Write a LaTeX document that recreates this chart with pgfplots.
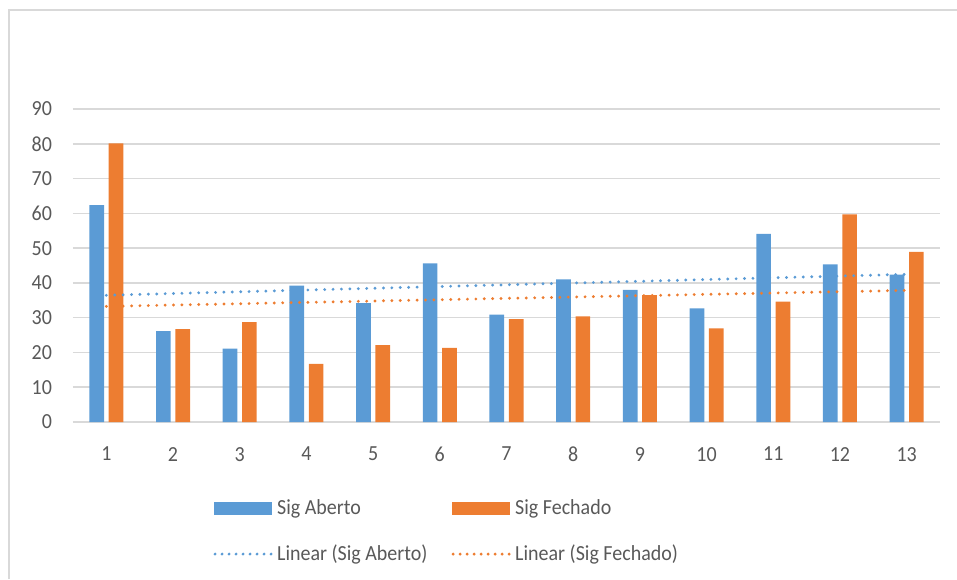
\documentclass[border=0pt]{standalone}
\usepackage{pgfplots}
\usepackage{pgfplotstable}
\pgfplotsset{compat=1.18}
\usepackage{fontspec}
\setmainfont{Carlito}[FakeStretch=0.93]
\definecolor{cblue}{RGB}{91,155,213}
\definecolor{corange}{RGB}{237,125,49}
\definecolor{cgrid}{RGB}{217,217,217}
\definecolor{ctext}{RGB}{89,89,89}
\pgfplotstableread{
x a f
1 62.4 80.1
2 26.1 26.7
3 21.1 28.7
4 39.2 16.7
5 34.2 22.1
6 45.6 21.3
7 30.9 29.6
8 41.0 30.4
9 38.0 36.5
10 32.7 26.9
11 54.1 34.6
12 45.3 59.7
13 42.4 48.9
}\data
\begin{document}
\begin{tikzpicture}
\path[use as bounding box] (0pt,0pt) rectangle (478.5pt,289.5pt);
\draw[cgrid, line width=0.9pt] (4.5pt,0pt) -- (4.5pt,284.5pt) -- (478.5pt,284.5pt);
\begin{axis}[
  at={(36.5pt,78.5pt)}, anchor=south west,
  scale only axis, width=433.5pt, height=156.5pt,
  xmin=0.5, xmax=13.5, ymin=0, ymax=90,
  ytick={0,10,...,90}, xtick={1,...,13},
  axis line style={draw=none},
  major tick length=0pt,
  ymajorgrids, grid style={cgrid, line width=0.75pt},
  /pgf/number format/assume math mode=true,
  tick label style={font=\fontsize{10.75}{12}\selectfont, text=ctext},
  yticklabel style={xshift=-7pt},
  xticklabel style={yshift=-9pt},
  ybar, bar width=0.22,
  legend columns=2,
  legend style={draw=none, fill=none, inner sep=0pt,
    at={(0.1615,-0.2345)}, anchor=north west,
    font=\fontsize{10.75}{12}\selectfont, text=ctext,
    row sep=9.5pt,
    /tikz/every even column/.append style={column sep=10pt}},
  legend cell align=left,
]
\addplot[fill=cblue, draw=none, bar shift=-0.145,
  legend image code/.code={\fill[cblue] (0pt,-3.25pt) rectangle (29pt,3.25pt);}]
  table[x=x, y=a] {\data};
\addlegendentry{Sig Aberto}
\addplot[fill=corange, draw=none, bar shift=0.145,
  legend image code/.code={\fill[corange] (0pt,-3.25pt) rectangle (29pt,3.25pt);}]
  table[x=x, y=f] {\data};
\addlegendentry{Sig Fechado}
\addplot[sharp plot, cblue, line width=1.6pt, line cap=round, dash pattern=on 0pt off 4.2pt, mark=none,
  legend image code/.code={\draw[cblue, line width=1.6pt, line cap=round, dash pattern=on 0pt off 3.5pt] (0.75pt,0pt) -- (29pt,0pt);}]
  table[x=x, y={create col/linear regression={y=a}}] {\data};
\addlegendentry{Linear (Sig Aberto)}
\addplot[sharp plot, corange, line width=1.6pt, line cap=round, dash pattern=on 0pt off 4.2pt, mark=none,
  legend image code/.code={\draw[corange, line width=1.6pt, line cap=round, dash pattern=on 0pt off 3.5pt] (0.75pt,0pt) -- (29pt,0pt);}]
  table[x=x, y={create col/linear regression={y=f}}] {\data};
\addlegendentry{Linear (Sig Fechado)}
\end{axis}
\end{tikzpicture}
\end{document}
